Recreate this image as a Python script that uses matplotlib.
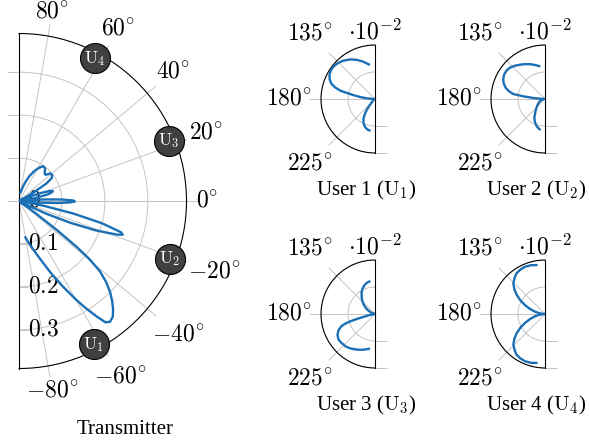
import numpy as np
import matplotlib
matplotlib.use("Agg")
import matplotlib.pyplot as plt
import matplotlib.transforms as mtransforms

plt.rcParams["mathtext.fontset"] = "cm"
plt.rcParams["font.family"] = ["Liberation Serif", "DejaVu Serif"]

BLUE = "#1a6fb5"
GRID = "#c4c4c4"
INK = "black"
USER_FILL = "#404040"

W, H, DPI = 589, 447, 100
TICK_FS = 17

# transmitter beam pattern (theta in degrees, gain)
TX_THETA = [-80, -76, -72, -69, -66, -63, -60, -58, -56, -54.5,
            -53, -51, -49, -47, -45, -43, -41, -39.5, -38.5, -37.5,
            -36.5, -35.5, -33, -31, -29, -27, -25, -23, -21, -19,
            -18, -17, -15, -13, -11, -9.5, -8.5, -7, -5, -3,
            -1.5, -0.5, 0.5, 2, 3.5, 5, 6.5, 8, 9.5, 11,
            13, 15, 16.5, 18, 20, 22, 24, 26, 28, 29.5,
            30.5, 32.5, 35, 38, 41.5, 44.5, 47.5, 51, 55, 59,
            63, 67, 71, 75, 80]
TX_R = [0.086, 0.105, 0.128, 0.152, 0.185, 0.222, 0.265, 0.295, 0.325, 0.347,
        0.352, 0.347, 0.334, 0.318, 0.300, 0.278, 0.250, 0.212, 0.172, 0.112,
        0.050, 0.005, 0.020, 0.015, 0.0, 0.02, 0.07, 0.13, 0.19, 0.24,
        0.254, 0.248, 0.20, 0.13, 0.06, 0.015, 0.005, 0.0, 0.04, 0.09,
        0.12, 0.13, 0.127, 0.10, 0.06, 0.02, 0.0, 0.01, 0.025, 0.045,
        0.07, 0.08, 0.082, 0.075, 0.055, 0.03, 0.005, 0.015, 0.005, 0.02,
        0.04, 0.075, 0.093, 0.098, 0.097, 0.087, 0.088, 0.097, 0.099, 0.09,
        0.078, 0.064, 0.048, 0.033, 0.02]
TX_RMAX = 0.39
TX_RTICKS = [0.1, 0.2, 0.3]
TX_RLABEL_VALUES = [0, 0.1, 0.2, 0.3]
TX_RLABELS = ["0", "0.1", "0.2", "0.3"]
TX_ANGLES = [-80, -60, -40, -20, 0, 20, 40, 60, 80]

USER_THETA = [-62.5, -21, 22, 62]
USER_R = 0.376
USER_IDS = [1, 2, 3, 4]

# receiver patterns, in units of 1e-2
RX_RMAX = 2
RX_RTICKS = [1, 2]
RX_ANGLES = [135, 180, 225]

RX1_THETA = [100, 108, 115, 122, 130, 137, 142, 147, 152, 157,
             161, 164, 166.5, 169.5, 172.5, 175.5, 178, 180, 190, 200,
             210, 218, 224, 228, 231, 234, 237, 240, 244, 248,
             253, 257, 260]
RX1_R = [1.30, 1.46, 1.60, 1.73, 1.85, 1.92, 1.95, 1.95, 1.91, 1.82,
         1.70, 1.52, 1.32, 0.85, 0.55, 0.28, 0.07, 0.0, 0.02, 0.04,
         0.07, 0.10, 0.15, 0.22, 0.38, 0.57, 0.72, 0.86, 0.97, 1.06,
         1.13, 1.17, 1.18]

RX2_THETA = [100, 107, 113, 120, 126, 132, 138, 143, 147, 151,
             155.5, 160, 164.5, 168, 171, 173, 175, 177, 179, 185,
             192, 200, 207, 213, 218, 223, 228, 232, 236, 240,
             245, 250, 255, 260]
RX2_R = [1.24, 1.32, 1.40, 1.49, 1.57, 1.66, 1.74, 1.77, 1.77, 1.75,
         1.70, 1.62, 1.50, 1.36, 1.19, 0.82, 0.42, 0.15, 0.03, 0.05,
         0.10, 0.17, 0.23, 0.29, 0.34, 0.41, 0.49, 0.57, 0.66, 0.79,
         0.90, 1.0, 1.08, 1.14]

RX3_THETA = [100, 104, 110, 116, 122, 128, 134, 140, 146, 152,
             158, 164, 170, 178, 186, 190, 193, 195, 196.5, 198,
             200, 204, 209, 215, 221, 228, 234, 241, 247, 253,
             260]
RX3_R = [1.22, 1.20, 1.14, 1.05, 0.94, 0.80, 0.68, 0.55, 0.42, 0.30,
         0.18, 0.08, 0.02, 0.01, 0.04, 0.12, 0.32, 0.65, 0.95, 1.16,
         1.33, 1.48, 1.59, 1.65, 1.64, 1.62, 1.57, 1.50, 1.44, 1.38,
         1.31]

RX4_THETA = [100, 106, 113, 119, 125, 130, 136, 141, 146, 151,
             156, 161, 167, 172, 176, 180, 184, 188, 193, 199,
             204, 209, 214, 219, 224, 230, 235, 241, 247, 254,
             260]
RX4_R = [1.84, 1.88, 1.90, 1.88, 1.84, 1.75, 1.63, 1.46, 1.26, 1.04,
         0.81, 0.60, 0.38, 0.20, 0.08, 0.0, 0.08, 0.20, 0.38, 0.60,
         0.81, 1.04, 1.26, 1.46, 1.63, 1.75, 1.84, 1.88, 1.90, 1.88,
         1.84]

RX_CURVES = [(RX1_THETA, RX1_R), (RX2_THETA, RX2_R),
             (RX3_THETA, RX3_R), (RX4_THETA, RX4_R)]

# layout (pixels, origin top-left): polar centre and outer radius
TX_C, TX_RPX = (19, 201), 167.5
RX_C = [(375, 99), (545, 99), (375, 314), (545, 314)]
RX_RPX = 54

fig = plt.figure(figsize=(W / DPI, H / DPI), dpi=DPI)
fig.patch.set_facecolor("white")
px = DPI / 72.0


def half_polar(center, rpx, side):
    cx, cy = center
    left = cx - rpx / 2 if side == "right" else cx - 1.5 * rpx
    rect = [left / W, 1 - (cy + rpx) / H, 2 * rpx / W, 2 * rpx / H]
    ax = fig.add_axes(rect, projection="polar")
    if side == "right":
        ax.set_thetamin(-90)
        ax.set_thetamax(90)
    else:
        ax.set_thetamin(90)
        ax.set_thetamax(270)
    return ax


def style(ax, rmax, rticks, angles, rpx):
    ax.set_ylim(0, rmax)
    ax.set_xticks([])
    ax.set_yticks(rticks)
    ax.set_yticklabels([])
    ax.tick_params(axis="y", length=0)
    ax.yaxis.grid(True, color=GRID, lw=0.7)
    for s in ("polar", "start", "end"):
        ax.spines[s].set_color(INK)
        ax.spines[s].set_linewidth(0.8)
    ax.spines["inner"].set_visible(False)
    ext = rmax * (1 + 11 / rpx)
    for a in angles:
        th = np.deg2rad(a)
        ax.plot([th, th], [0, ext], color=GRID, lw=0.7, clip_on=False, zorder=1)


label_jobs = []

# transmitter
ax = half_polar(TX_C, TX_RPX, "right")
style(ax, TX_RMAX, TX_RTICKS, TX_ANGLES, TX_RPX)
ax.plot(np.full(4, np.pi / 2), [0] + TX_RTICKS, ls="none", marker=0,
        ms=12 / px, mec=GRID, mew=0.7, clip_on=False)
ax.plot(np.full(3, -np.pi / 2), TX_RTICKS, ls="none", marker=1,
        ms=9 / px, mec=GRID, mew=0.7, clip_on=False)
for v, lab in zip(TX_RLABEL_VALUES, TX_RLABELS):
    ax.annotate(f"${lab}$", xy=(-np.pi / 2, v), xytext=(9, 0),
                textcoords="offset pixels", ha="left", va="center",
                fontsize=TICK_FS, zorder=2)
ax.plot(np.deg2rad(TX_THETA), TX_R, color=BLUE, lw=1.7, zorder=4)
ax.scatter(np.deg2rad(USER_THETA), np.full(4, USER_R), s=(30 / px) ** 2,
           c=USER_FILL, edgecolors=INK, linewidths=0.8, zorder=5, clip_on=False)
for th, uid in zip(USER_THETA, USER_IDS):
    ax.text(np.deg2rad(th), USER_R, rf"$\mathrm{{U}}_{uid}$", color="white",
            fontsize=12.5, ha="center", va="center", zorder=6)
label_jobs.append((ax, TX_ANGLES))
fig.text(125 / W, 1 - 430 / H, "Transmitter", fontsize=15,
         ha="center", va="center")

# receivers
for i, ((cx, cy), (th_list, r_list)) in enumerate(zip(RX_C, RX_CURVES)):
    ax = half_polar((cx, cy), RX_RPX, "left")
    style(ax, RX_RMAX, RX_RTICKS, RX_ANGLES, RX_RPX)
    ax.plot(np.full(2, 1.5 * np.pi), RX_RTICKS, ls="none", marker=1,
            ms=12 / px, mec=GRID, mew=0.7, clip_on=False)
    ax.plot(np.deg2rad(th_list), r_list, color=BLUE, lw=1.7, zorder=4)
    ax.annotate(r"$\cdot10^{-2}$", xy=(np.pi / 2, RX_RMAX), xytext=(0, 1),
                textcoords="offset pixels", ha="center", va="bottom",
                fontsize=TICK_FS)
    label_jobs.append((ax, RX_ANGLES))
    fig.text((cx - 9) / W, 1 - (cy + 91) / H,
             rf"User {i + 1} ($\mathrm{{U}}_{i + 1}$)", fontsize=15,
             ha="center", va="center")

# angular tick labels: box edge facing the centre sits just past the rim
fig.canvas.draw()
renderer = fig.canvas.get_renderer()
ident = mtransforms.IdentityTransform()
for ax, angles in label_jobs:
    c = ax.transData.transform((0, 0))
    e = ax.transData.transform((0, ax.get_ylim()[1]))
    rpx = np.hypot(*(e - c))
    for a in angles:
        t = fig.text(0, 0, rf"${a}^{{\circ}}$", fontsize=TICK_FS,
                     ha="center", va="center", transform=ident)
        bb = t.get_window_extent(renderer)
        th = np.deg2rad(a)
        gap = 9 + 5 * abs(np.sin(2 * th))
        d = rpx + gap + bb.width / 2 * abs(np.cos(th)) + bb.height / 2 * abs(np.sin(th))
        t.set_position((c[0] + d * np.cos(th), c[1] + d * np.sin(th)))

fig.savefig("out.png", dpi=DPI, facecolor="white")
